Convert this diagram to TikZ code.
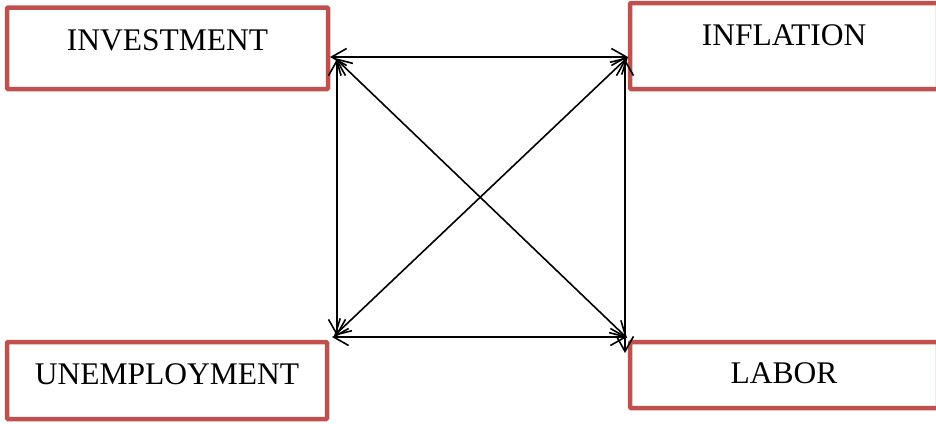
\documentclass[tikz,border=0pt]{standalone}
\usepackage{fontspec}
\setmainfont{Liberation Serif}
\usetikzlibrary{arrows.meta}
\definecolor{boxred}{RGB}{192,80,77}
\begin{document}
\begin{tikzpicture}[x=1pt,y=-1pt,
  varbox/.style={draw=boxred, line width=4.5pt, rounded corners=1pt,
    inner sep=0pt, outer sep=0pt, anchor=north west, align=center,
    font=\fontsize{31.5}{36}\selectfont},
  link/.style={line width=1.6pt, {Straight Barb[length=15pt,width=17pt]}-{Straight Barb[length=15pt,width=17pt]}}]
\useasboundingbox (0,0) rectangle (936,423);
% the four variables
\node[varbox, text width=321pt, text height=42.5pt, text depth=39pt] (inv) at (7,7.5) {INVESTMENT};
\node[varbox, text width=308pt, text height=42pt, text depth=44pt] (infl) at (630,3) {INFLATION};
\node[varbox, text width=320pt, text height=42pt, text depth=35pt] (unemp) at (7,342) {UNEMPLOYMENT};
\node[varbox, text width=308pt, text height=41pt, text depth=25pt] (lab) at (630,342) {LABOR};
% connection points beside the inner corners
\coordinate (invH) at (330,57);
\coordinate (invV) at (337,59);
\coordinate (invD) at (335,58);
\coordinate (inflH) at (628,57);
\coordinate (inflV) at (625,59);
\coordinate (inflD) at (628,57);
\coordinate (unH) at (332,337);
\coordinate (unV) at (337,336);
\coordinate (unD) at (334,336);
\coordinate (labH) at (627,337);
\coordinate (labV) at (625,353);
\coordinate (labD) at (627,338);
% mutual influences
\draw[link] (invH) -- (inflH);
\draw[link] (invV) -- (unV);
\draw[link] (inflV) -- (labV);
\draw[link] (unH) -- (labH);
\draw[link] (invD) -- (labD);
\draw[link] (inflD) -- (unD);
\end{tikzpicture}
\end{document}
